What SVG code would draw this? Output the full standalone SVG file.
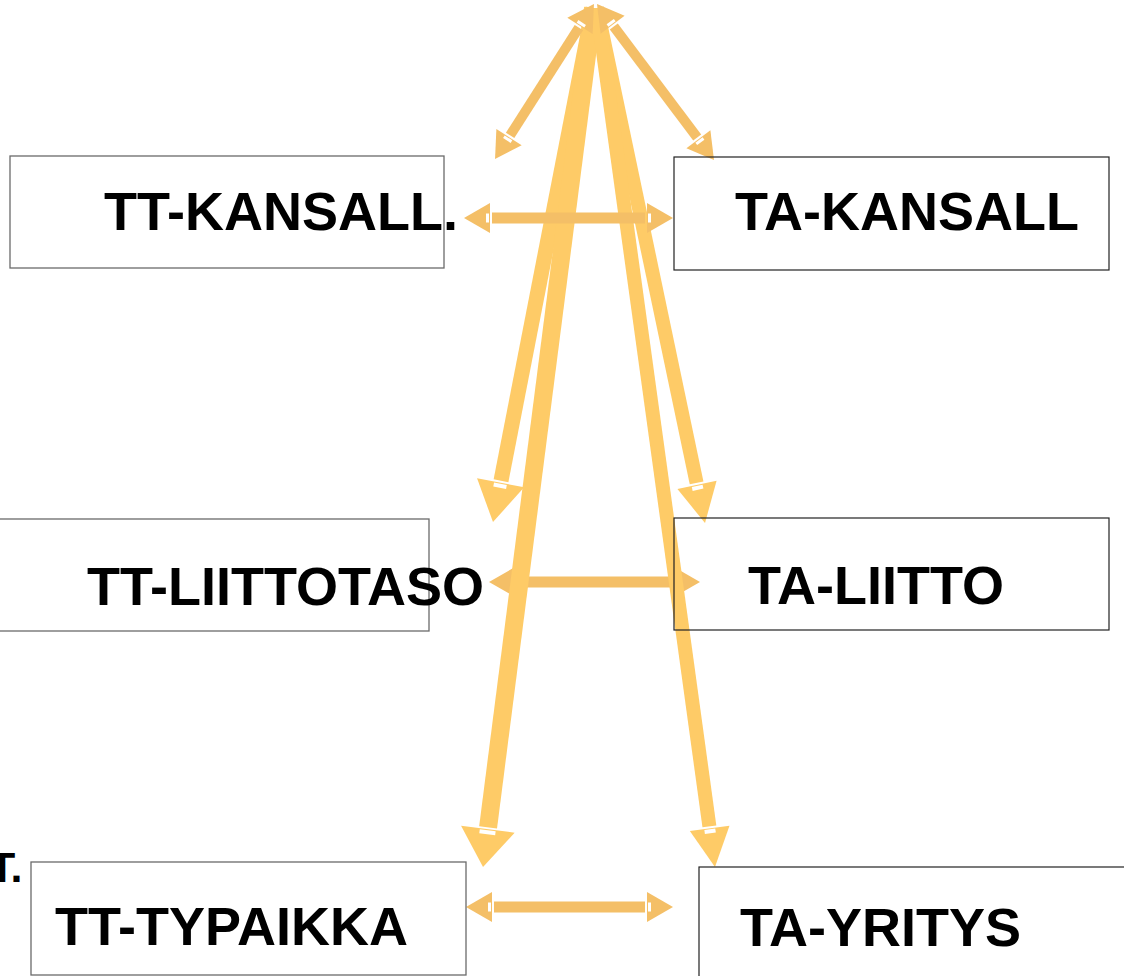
<svg xmlns="http://www.w3.org/2000/svg" width="1124" height="976" viewBox="0 0 1124 976">
<style>
.lbl{font-family:"Liberation Sans",Arial,sans-serif;font-weight:bold;font-size:54px;fill:#000}
.tt{fill:none;stroke:#6a6a6a;stroke-width:1.3}
.ta{fill:none;stroke:#222;stroke-width:1.2}
.thin{stroke:#F4BF67;stroke-width:10;fill:none}
.hz{stroke:#F4BF67;stroke-width:11;fill:none}
.thick{stroke:#FECB67;fill:none}
</style>
<defs>
<marker id="aS" markerUnits="userSpaceOnUse" markerWidth="28" markerHeight="30" viewBox="-2 -15 28 30" refX="-2" refY="0" orient="auto-start-reverse" overflow="visible">
<path d="M0,-15 L26,0 L0,15 Z" fill="#F4BF67"/>
<rect x="1" y="-4.5" width="3" height="9" fill="#fff"/>
</marker>
<marker id="aBL" markerUnits="userSpaceOnUse" markerWidth="42" markerHeight="54" viewBox="-2 -27 42 54" refX="-2" refY="0" orient="auto" overflow="visible">
<path d="M0,-27 L38,0 L0,27 Z" fill="#FECB67"/>
<rect x="1" y="-8" width="4" height="16" fill="#fff"/>
</marker>
<marker id="aBM" markerUnits="userSpaceOnUse" markerWidth="42" markerHeight="48" viewBox="-2 -24 42 48" refX="-2" refY="0" orient="auto" overflow="visible">
<path d="M0,-24 L40,0 L0,24 Z" fill="#FECB67"/>
<rect x="1" y="-6.5" width="4" height="13" fill="#fff"/>
</marker>
<marker id="aBR" markerUnits="userSpaceOnUse" markerWidth="42" markerHeight="42" viewBox="-2 -21 42 42" refX="-2" refY="0" orient="auto" overflow="visible">
<path d="M0,-20 L39,0 L0,20 Z" fill="#FECB67"/>
<rect x="1" y="-5.5" width="4" height="11" fill="#fff"/>
</marker>
</defs>
<g id="connectors">
<line class="hz" x1="517" y1="582" x2="672" y2="582" marker-start="url(#aS)" marker-end="url(#aS)"/>
<line class="thick" stroke-width="15" x1="593" y1="8" x2="501" y2="480.8" marker-end="url(#aBM)"/>
<line class="thick" stroke-width="18" x1="593" y1="8" x2="488.1" y2="827.3" marker-end="url(#aBL)"/>
<line class="thick" stroke-width="14" x1="597" y1="8" x2="696.6" y2="482.9" marker-end="url(#aBR)"/>
<line class="thick" stroke-width="14" x1="597" y1="8" x2="709.4" y2="826.4" marker-end="url(#aBR)"/>
<line class="hz" x1="492" y1="218" x2="645" y2="218" marker-start="url(#aS)" marker-end="url(#aS)"/>
<line class="hz" x1="494" y1="907" x2="645" y2="907" marker-start="url(#aS)" marker-end="url(#aS)"/>
<line class="thin" x1="578.9" y1="27.6" x2="510.1" y2="135.4" marker-start="url(#aS)" marker-end="url(#aS)"/>
<line class="thin" x1="613.8" y1="26.4" x2="697.2" y2="137.6" marker-start="url(#aS)" marker-end="url(#aS)"/>
</g>
<g id="tt-kansall">
<rect class="tt" x="10" y="156" width="434" height="112"/>
<text class="lbl" x="104" y="230">TT-KANSALL.</text>
</g>
<g id="ta-kansall">
<rect class="ta" x="674" y="157" width="435" height="113"/>
<text class="lbl" x="735" y="230">TA-KANSALL</text>
</g>
<g id="tt-liittotaso">
<rect class="tt" x="-1" y="519" width="430" height="112"/>
<text class="lbl" x="87" y="605">TT-LIITTOTASO</text>
</g>
<g id="ta-liitto">
<rect class="ta" x="674" y="518" width="435" height="112"/>
<text class="lbl" x="748" y="604">TA-LIITTO</text>
</g>
<g id="tt-typaikka">
<rect class="tt" x="31" y="862" width="435" height="113"/>
<text class="lbl" x="55" y="945">TT-TYPAIKKA</text>
</g>
<g id="ta-yritys">
<rect class="ta" x="699" y="867" width="435" height="113"/>
<text class="lbl" x="740" y="946">TA-YRITYS</text>
</g>
<g id="fragment">
<text class="lbl" x="-11" y="882" style="font-size:43px">T.</text>
</g>
</svg>
